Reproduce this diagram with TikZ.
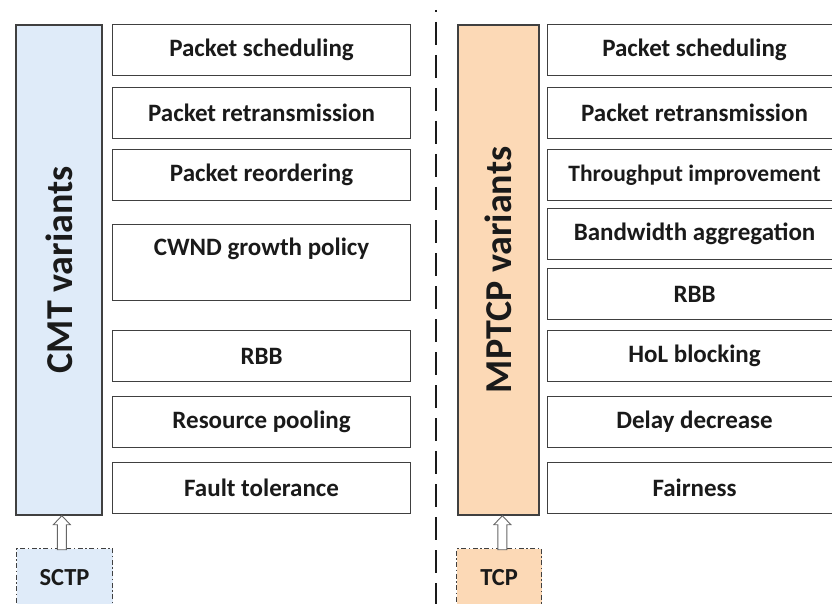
\documentclass[tikz,border=0pt]{standalone}
\usepackage{fontspec}
\setmainfont{Carlito}
\usetikzlibrary{calc}
\definecolor{edge}{HTML}{404040}
\definecolor{cmtfill}{HTML}{DFEBF9}
\definecolor{mpfill}{HTML}{FCD9B6}
\definecolor{txt}{HTML}{1A1A1A}
\begin{document}
\begin{tikzpicture}[x=1pt,y=-1pt,
  feat/.style={draw=edge, line width=1.1pt, fill=white, anchor=north west, inner sep=0pt,
    font=\fontsize{25}{29}\selectfont\bfseries, text=txt},
  featL/.style={feat, minimum width=298pt},
  featR/.style={feat, minimum width=294pt},
  bigbox/.style={draw=edge, line width=1.7pt, anchor=north west, inner sep=0pt,
    minimum height=490pt},
  biglabel/.style={rotate=90, font=\fontsize{38}{42}\selectfont\bfseries, text=txt},
  proto/.style={draw=edge, line width=1.1pt, anchor=north west, inner sep=0pt,
    minimum height=58pt, dash pattern=on 5pt off 2.5pt on 1.5pt off 2.5pt,
    font=\fontsize{24.5}{28}\selectfont\bfseries, text=txt},
  blockarr/.style={draw=edge!80, line width=0.9pt, fill=white, line join=miter},
  sep/.style={draw=txt, line width=2.8pt, dash pattern=on 23pt off 10pt, dash phase=21pt}
]
\useasboundingbox (0,0) rectangle (832,604);
\clip (0,0) rectangle (832,604);

% left side
\node[bigbox, fill=cmtfill, minimum width=86pt] (cmt) at (15,24) {};
\node[biglabel] (cmtlab) at (cmt.center) {CMT variants};

\node[featL, minimum height=51pt] (l1) at (112,24) {Packet scheduling};
\node[featL, minimum height=51pt] (l2) at (112,87) {Packet retransmission};
\node[featL, minimum height=51pt] (l3) at (112,149) {Packet reordering};
\node[featL, minimum height=76pt] (l4) at (112,224) {};
\node[font=\fontsize{25}{29}\selectfont\bfseries, text=txt] (l4t) at ($(l4.north)+(0,25)$) {CWND growth policy};
\node[featL, minimum height=51pt] (l5) at (112,330) {RBB};
\node[featL, minimum height=51pt] (l6) at (112,396) {Resource pooling};
\node[featL, minimum height=51pt] (l7) at (112,462) {Fault tolerance};

\node[proto, fill=cmtfill, minimum width=96pt] (sctp) at (16,548) {SCTP};
\coordinate (tipL) at ($(cmt.south)+(3,0)$);
\draw[blockarr] (tipL) -- ++(8.5,9) -- ++(-4,0) -- ++(0,25) -- ++(-9,0) -- ++(0,-25) -- ++(-4,0) -- cycle;

% separator
\coordinate (sepTop) at (436,10);
\coordinate (sepBot) at (436,610);
\draw[sep] (sepTop) -- (sepBot);

% right side
\node[bigbox, fill=mpfill, minimum width=81pt] (mp) at (457,24) {};
\node[biglabel] (mplab) at (mp.center) {MPTCP variants};

\node[featR, minimum height=51pt] (r1) at (547,24) {Packet scheduling};
\node[featR, minimum height=51pt] (r2) at (547,87) {Packet retransmission};
\node[featR, minimum height=51pt, font=\fontsize{23.5}{27}\selectfont\bfseries] (r3) at (547,149) {Throughput improvement};
\node[featR, minimum height=51pt] (r4) at (547,208) {Bandwidth aggregation};
\node[featR, minimum height=51pt] (r5) at (547,268) {RBB};
\node[featR, minimum height=51pt] (r6) at (547,330) {HoL blocking};
\node[featR, minimum height=51pt] (r7) at (547,396) {Delay decrease};
\node[featR, minimum height=51pt] (r8) at (547,462) {Fairness};

\node[proto, fill=mpfill, minimum width=85pt] (tcp) at (456,548) {TCP};
\coordinate (tipR) at ($(mp.south)+(4,0)$);
\draw[blockarr] (tipR) -- ++(8.5,9) -- ++(-4,0) -- ++(0,25) -- ++(-9,0) -- ++(0,-25) -- ++(-4,0) -- cycle;
\end{tikzpicture}
\end{document}
